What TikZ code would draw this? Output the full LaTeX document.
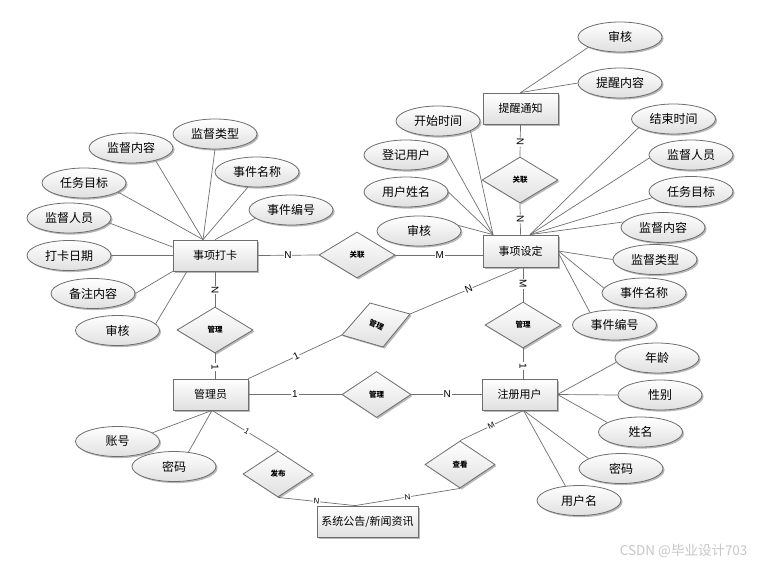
\documentclass[tikz,border=0pt]{standalone}
\usepackage{fontspec}
\setmainfont{Noto Sans CJK SC}
\newfontfamily\latinfont{Liberation Sans}
\usetikzlibrary{shapes.geometric,shadows,calc}
\definecolor{edgec}{HTML}{6E6E6E}
\definecolor{linec}{HTML}{707070}
\definecolor{shadeb}{HTML}{E0E0E0}
\tikzset{
  fillshade/.style={draw=edgec, line width=0.8pt, top color=white, bottom color=shadeb,
    drop shadow={shadow xshift=1.6pt, shadow yshift=-1.6pt, opacity=0.28, fill=black}},
  attr/.style={fillshade, ellipse, inner sep=0pt, minimum width=84pt, minimum height=30pt,
    font=\fontsize{12}{12}\selectfont},
  ent/.style={fillshade, rectangle, inner sep=0pt, minimum width=75pt, minimum height=31pt,
    font=\fontsize{11}{11}\selectfont},
  rel/.style={fillshade, diamond, inner sep=0pt, minimum width=76pt, minimum height=46pt,
    font=\bfseries\fontsize{7.5}{7.5}\selectfont},
  conn/.style={draw=linec, line width=0.7pt},
  lbl/.style={fill=white, inner sep=0.8pt, font=\latinfont\fontsize{10}{10}\selectfont},
  slbl/.style={lbl, font=\latinfont\fontsize{8}{8}\selectfont},
}
\begin{document}
\begin{tikzpicture}[x=1pt,y=-1pt]
\useasboundingbox[fill=white] (0,0) rectangle (759,565);

% entities
\node[ent, minimum width=84pt] (ka) at (215,255.5) {事项打卡};
\node[ent] (tx) at (520.5,108.5) {提醒通知};
\node[ent, minimum height=32pt] (ss) at (520.5,251) {事项设定};
\node[ent] (zc) at (519.5,394.5) {注册用户};
\node[ent] (gl) at (210.5,394.5) {管理员};
\node[ent, minimum width=101pt] (xw) at (367.5,521.5) {系统公告/新闻资讯};

% relationships
\node[rel] (r1) at (357,255) {关联};
\node[rel] (r2) at (520,180) {关联};
\node[rel] (r3) at (215,330) {管理};
\node[rel, minimum width=69pt] (r5) at (376.5,394.5) {管理};
\node[rel] (r6) at (523,325) {管理};
\node[rel, minimum width=70pt] (r7) at (278,474) {发布};
\node[rel, minimum width=70pt, minimum height=47pt] (r8) at (460,464.5) {查看};
\coordinate (r4t) at (370,303);
\coordinate (r4r) at (410,314);
\coordinate (r4b) at (383,347);
\coordinate (r4l) at (342,335);
\path[fillshade] (r4t) -- (r4r) -- (r4b) -- (r4l) -- cycle;
\node[font=\bfseries\fontsize{7.5}{7.5}\selectfont, rotate=-25, inner sep=0pt] (r4) at (376.5,325) {管理};

% attributes of 事项打卡
\node[attr] (kaA1) at (131,148) {监督内容};
\node[attr] (kaA2) at (215,134) {监督类型};
\node[attr] (kaA3) at (257,172) {事件名称};
\node[attr] (kaA4) at (84,183) {任务目标};
\node[attr] (kaA5) at (291,210) {事件编号};
\node[attr] (kaA6) at (69,218) {监督人员};
\node[attr] (kaA7) at (69,255.5) {打卡日期};
\node[attr] (kaA8) at (93,293.5) {备注内容};
\node[attr] (kaA9) at (117.5,330.5) {审核};
% attributes of 提醒通知
\node[attr] (txA1) at (620,37) {审核};
\node[attr] (txA2) at (620,83) {提醒内容};
% attributes of 事项设定
\node[attr] (ssA1) at (438,121) {开始时间};
\node[attr] (ssA2) at (406,155) {登记用户};
\node[attr] (ssA3) at (406,192) {用户姓名};
\node[attr] (ssA4) at (419,231) {审核};
\node[attr] (ssA5) at (673.5,119) {结束时间};
\node[attr] (ssA6) at (691,155) {监督人员};
\node[attr] (ssA7) at (691,191.5) {任务目标};
\node[attr] (ssA8) at (663,227.5) {监督内容};
\node[attr] (ssA9) at (655,259.5) {监督类型};
\node[attr] (ssA10) at (644,293) {事件名称};
\node[attr] (ssA11) at (614.5,325) {事件编号};
% attributes of 注册用户
\node[attr] (zcA1) at (657,358) {年龄};
\node[attr] (zcA2) at (660,395) {性别};
\node[attr] (zcA3) at (640.5,432) {姓名};
\node[attr] (zcA4) at (621,468.5) {密码};
\node[attr] (zcA5) at (579,500.5) {用户名};
% attributes of 管理员
\node[attr] (glA1) at (117.5,441.5) {账号};
\node[attr] (glA2) at (174,466.5) {密码};

% convergence points
\coordinate (kaT) at ($(ka.north)+(-12,0)$);
\coordinate (kaL) at ($(ka.west)+(0,-8.5)$);
\coordinate (kaB) at ($(ka.south)+(-28,0)$);
\coordinate (ssL) at ($(ss.north)+(-27.5,0)$);
\coordinate (ssR) at ($(ss.north)+(9.5,0)$);
\coordinate (ssR2) at ($(ss.east)+(0,2)$);
\coordinate (zcB) at ($(zc.south)+(4,0)$);
\coordinate (glB) at ($(gl.south)+(1.5,0)$);
\coordinate (xwT) at ($(xw.north)+(-12.5,0)$);

% attribute connectors
\draw[conn] (kaA1.-27) -- (kaT);
\draw[conn] (kaA2.south) -- (kaT);
\draw[conn] (kaA3.-121) -- (kaT);
\draw[conn] (kaA4.-15) -- (kaT);
\draw[conn] (kaA5.-167) -- (ka.north);
\draw[conn] (kaA6.-7) -- (kaL);
\draw[conn] (kaA7.east) -- (ka.west);
\draw[conn] (kaA8.east) -- (ka.south west);
\draw[conn] (kaA9.10) -- (kaB);
\draw[conn] (txA1.-162) -- (tx.north);
\draw[conn] (txA2.180) -- (tx.north);
\draw[conn] (ssA1.-17) -- (ssL);
\draw[conn] (ssA2.east) -- (ssL);
\draw[conn] (ssA3.east) -- (ssL);
\draw[conn] (ssA4.8) -- (ssL);
\draw[conn] (ssA5.-166) -- (ssR);
\draw[conn] (ssA6.-176) -- (ssR);
\draw[conn] (ssA7.-171) -- (ssR);
\draw[conn] (ssA8.172) -- (ssR);
\draw[conn] (ssA9.west) -- (ss.east);
\draw[conn] (ssA10.173) -- (ss.east);
\draw[conn] (ssA11.153) -- (ssR2);
\draw[conn] (zcA1.186) -- (zc.east);
\draw[conn] (zcA2.west) -- (zc.east);
\draw[conn] (zcA3.164) -- (zc.east);
\draw[conn] (zcA4.163) -- (zcB);
\draw[conn] (zcA5.133) -- (zcB);
\draw[conn] (glA1.14) -- (glB);
\draw[conn] (glA2.45) -- (glB);

% relationship connectors
\draw[conn] (ka.east) -- node[lbl, pos=0.5] {N} (r1.west);
\draw[conn] (r1.east) -- node[lbl, pos=0.51] {M} (r1.east -| ss.west);
\draw[conn] (tx.south) -- node[lbl, pos=0.55, sloped] {N} (r2.north);
\draw[conn] (r2.south) -- node[lbl, pos=0.5, sloped] {N} (ss.north);
\draw[conn] (ka.south) -- node[lbl, pos=0.53, sloped] {N} (r3.north);
\draw[conn] (r3.south) -- node[lbl, pos=0.54, sloped] {1} (r3.south |- gl.north);
\draw[conn] (gl.north east) -- node[lbl, pos=0.51, sloped] {1} (r4l);
\draw[conn] (r4r) -- node[lbl, pos=0.53, sloped] {N} (ss.south);
\draw[conn] (gl.east) -- node[lbl, pos=0.5] {1} (r5.west);
\draw[conn] (r5.east) -- node[lbl, pos=0.51] {N} (zc.west);
\draw[conn] (r6.north |- ss.south) -- node[lbl, pos=0.49, sloped] {M} (r6.north);
\draw[conn] (r6.south) -- node[lbl, pos=0.58, sloped] {1} (r6.south |- zc.north);
\draw[conn] (glB) -- node[slbl, pos=0.53, sloped] {1} (r7.north);
\draw[conn] (r7.south) -- node[slbl, pos=0.5, sloped] {N} (xwT);
\draw[conn] (xwT) -- node[slbl, pos=0.5, sloped] {N} (r8.south);
\draw[conn] (r8.north) -- node[slbl, pos=0.49, sloped] {M} (zcB);

% watermark
\node[anchor=east, text=black!22, font=\fontsize{13.5}{13.5}\selectfont] (wm) at (751,551) {CSDN @毕业设计703};
\end{tikzpicture}
\end{document}
